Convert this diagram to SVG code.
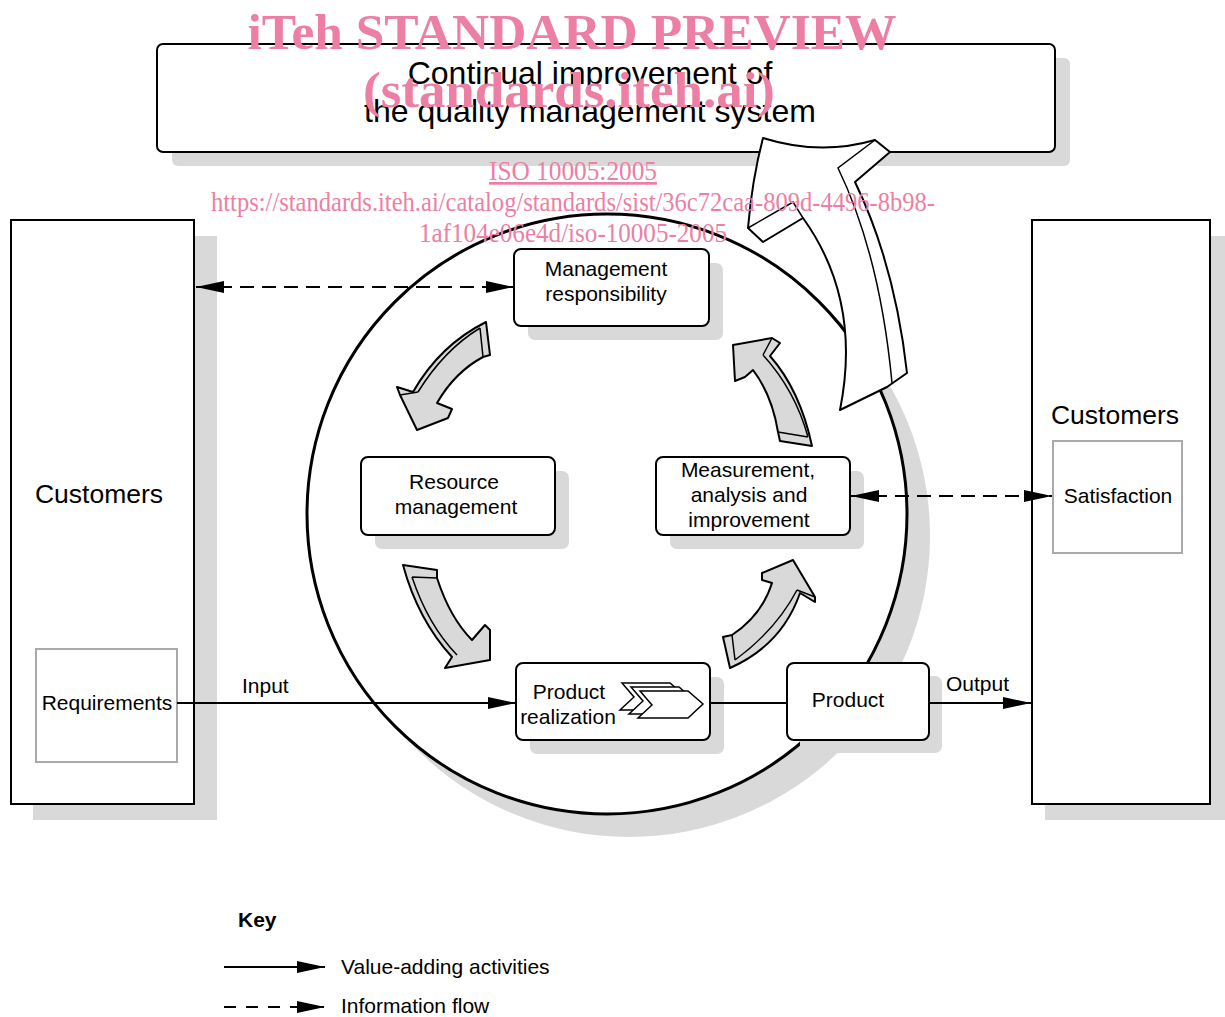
<svg xmlns="http://www.w3.org/2000/svg" width="1225" height="1017" viewBox="0 0 1225 1017">
<style>
.sh{fill:#d9d9d9;stroke:none}
.box{fill:#fff;stroke:#000;stroke-width:2}
.inner{fill:#fff;stroke:#aaa;stroke-width:2}
.t{font-family:"Liberation Sans",Arial,sans-serif;font-size:21px;fill:#000}
.tc{text-anchor:middle}
.big{font-size:26.5px}
.ga{fill:#d9d9d9;stroke:#000;stroke-width:2;stroke-linejoin:round}
.gl{fill:none;stroke:#000;stroke-width:1.5}
.wa{fill:#fff;stroke:#000;stroke-width:2;stroke-linejoin:round}
.con{fill:none;stroke:#000;stroke-width:2}
.dash{stroke-dasharray:14 8}
.wm{font-family:"Liberation Serif","Times New Roman",serif;fill:#ec7fa3;text-anchor:middle}
</style>
<defs>
<marker id="ah" markerUnits="userSpaceOnUse" markerWidth="30" markerHeight="14" refX="28" refY="6" orient="auto-start-reverse">
<path d="M0,0 L28,6 L0,12 Z" fill="#000"/>
</marker>
<path id="chev" d="M640,691 L688,691 L703,704 L688,718 L638,718 L652,705 Z" fill="#fff" stroke="#000" stroke-width="1.5"/>
</defs>

<!-- top box -->
<g id="top-box">
<rect class="sh" x="172" y="58" width="898" height="108" rx="6"/>
<rect class="box" x="157" y="44" width="898" height="108" rx="6"/>
<text class="t tc" x="590" y="84" style="font-size:32px">Continual improvement of</text>
<text class="t tc" x="590" y="122" style="font-size:32px">the quality management system</text>
</g>

<!-- left customers -->
<g id="customers-left">
<rect class="sh" x="33" y="236" width="184" height="584"/>
<rect class="box" x="11" y="220" width="183" height="584"/>
<text class="t tc big" x="99" y="503">Customers</text>
</g>
<g id="requirements">
<rect class="inner" x="36" y="649" width="141" height="113"/>
<text class="t tc" x="107" y="710">Requirements</text>
</g>

<!-- right customers -->
<g id="customers-right">
<rect class="sh" x="1045" y="236" width="180" height="584"/>
<rect class="box" x="1032" y="220" width="178" height="584"/>
<text class="t tc big" x="1115" y="424">Customers</text>
</g>
<g id="satisfaction">
<rect class="inner" x="1053" y="441" width="129" height="112"/>
<text class="t tc" x="1118" y="503">Satisfaction</text>
</g>

<!-- circle -->
<g id="cycle">
<circle class="sh" cx="629" cy="536" r="301"/>
<circle cx="607" cy="514" r="300" fill="#fff" stroke="#000" stroke-width="3"/>
</g>

<!-- process nodes -->
<g id="management-responsibility">
<rect class="sh" x="528" y="263" width="195" height="77" rx="7"/>
<rect class="box" x="514" y="249" width="195" height="77" rx="7"/>
<text class="t tc" x="606" y="276">Management</text>
<text class="t tc" x="606" y="301">responsibility</text>
</g>
<g id="resource-management">
<rect class="sh" x="375" y="471" width="194" height="78" rx="7"/>
<rect class="box" x="361" y="457" width="194" height="78" rx="7"/>
<text class="t tc" x="454" y="489">Resource</text>
<text class="t tc" x="456" y="514">management</text>
</g>
<g id="measurement">
<rect class="sh" x="670" y="471" width="194" height="78" rx="7"/>
<rect class="box" x="656" y="457" width="194" height="78" rx="7"/>
<text class="t tc" x="748" y="477">Measurement,</text>
<text class="t tc" x="749" y="502">analysis and</text>
<text class="t tc" x="749" y="527">improvement</text>
</g>
<g id="product-realization">
<rect class="sh" x="530" y="677" width="194" height="77" rx="7"/>
<rect class="box" x="516" y="663" width="194" height="77" rx="7"/>
<text class="t tc" x="569" y="699">Product</text>
<text class="t tc" x="568" y="724">realization</text>
<use href="#chev" transform="translate(-18,-8)"/>
<use href="#chev" transform="translate(-9,-4)"/>
<use href="#chev"/>
</g>
<g id="product">
<rect class="sh" x="800" y="676" width="142" height="77" rx="7"/>
<rect class="box" x="787" y="663" width="142" height="77" rx="7"/>
<text class="t tc" x="848" y="707">Product</text>
</g>

<!-- cycle arrows -->
<g id="cycle-arrows">
<path class="ga" d="M486,322 L490,355 L483,357 Q455,372 437,403 L452,409 L448,418 L417,430 L400,395 L397,387 L413,392 Q440,345 486,322 Z"/>
<path class="gl" d="M480,328 Q444,350 418,392 M480,328 L483,357 M400,395 L418,392"/>
<path class="ga" d="M733,345 L772,338 L780,343 L770,356 Q800,390 812,446 L780,441 L778,432 Q772,395 753,370 L745,377 L735,381 Z"/>
<path class="gl" d="M763,355 Q795,390 808,437 M778,432 L808,437 M763,355 L772,338"/>
<path class="ga" d="M403,565 L437,570 L437,578 Q450,618 472,640 L485,625 L490,630 L490,660 L445,668 L452,657 Q418,620 403,565 Z"/>
<path class="gl" d="M412,577 Q428,625 457,655 M412,577 L437,578"/>
<path class="ga" d="M723,637 L732,635 Q762,615 772,583 L762,580 L762,573 L793,560 L815,597 L815,602 L800,593 Q782,645 730,668 Z"/>
<path class="gl" d="M735,660 Q776,630 797,590 M732,635 L735,660 M797,590 L815,597"/>
</g>

<!-- big improvement arrow -->
<g id="improvement-arrow">
<path class="wa" d="M763,138 Q820,156 875,140 L890,152 L855,182 Q895,265 907,373 L887,387 L840,410 Q862,300 803,218 L763,242 L748,228 Q752,180 763,138 Z"/>
<path class="gl" d="M875,140 L838,168 Q880,255 892,383 M748,228 L793,202 L803,218"/>
</g>

<!-- connectors -->
<g id="connectors">
<path class="con dash" d="M196,287 L514,287" marker-start="url(#ah)" marker-end="url(#ah)"/>
<path class="con dash" d="M851,496 L1052,496" marker-start="url(#ah)" marker-end="url(#ah)"/>
<path class="con" d="M177,703 L516,703" marker-end="url(#ah)"/>
<path class="con" d="M710,703 L787,703"/>
<path class="con" d="M929,703 L1031,703" marker-end="url(#ah)"/>
<text class="t" x="242" y="693">Input</text>
<text class="t" x="946" y="691">Output</text>
</g>

<!-- key -->
<g id="key">
<text class="t" x="238" y="927" style="font-weight:bold">Key</text>
<path class="con" d="M224,967 L325,967" marker-end="url(#ah)"/>
<path class="con dash" d="M224,1007 L325,1007" style="stroke-dasharray:12 10" marker-end="url(#ah)"/>
<text class="t" x="341" y="974">Value-adding activities</text>
<text class="t" x="341" y="1013">Information flow</text>
</g>

<!-- watermark -->
<g id="watermark">
<text class="wm" x="572" y="49" style="font-size:50px;font-weight:bold" textLength="649" lengthAdjust="spacingAndGlyphs">iTeh STANDARD PREVIEW</text>
<text class="wm" x="569" y="107" style="font-size:50px;font-weight:bold" textLength="412" lengthAdjust="spacingAndGlyphs">(standards.iteh.ai)</text>
<text class="wm" x="573" y="180" style="font-size:27px;text-decoration:underline" textLength="168" lengthAdjust="spacingAndGlyphs">ISO 10005:2005</text>
<text class="wm" x="573" y="211" style="font-size:27px" textLength="724" lengthAdjust="spacingAndGlyphs">https://standards.iteh.ai/catalog/standards/sist/36c72caa-809d-4496-8b98-</text>
<text class="wm" x="573" y="242" style="font-size:27px" textLength="308" lengthAdjust="spacingAndGlyphs">1af104e06e4d/iso-10005-2005</text>
</g>
</svg>
